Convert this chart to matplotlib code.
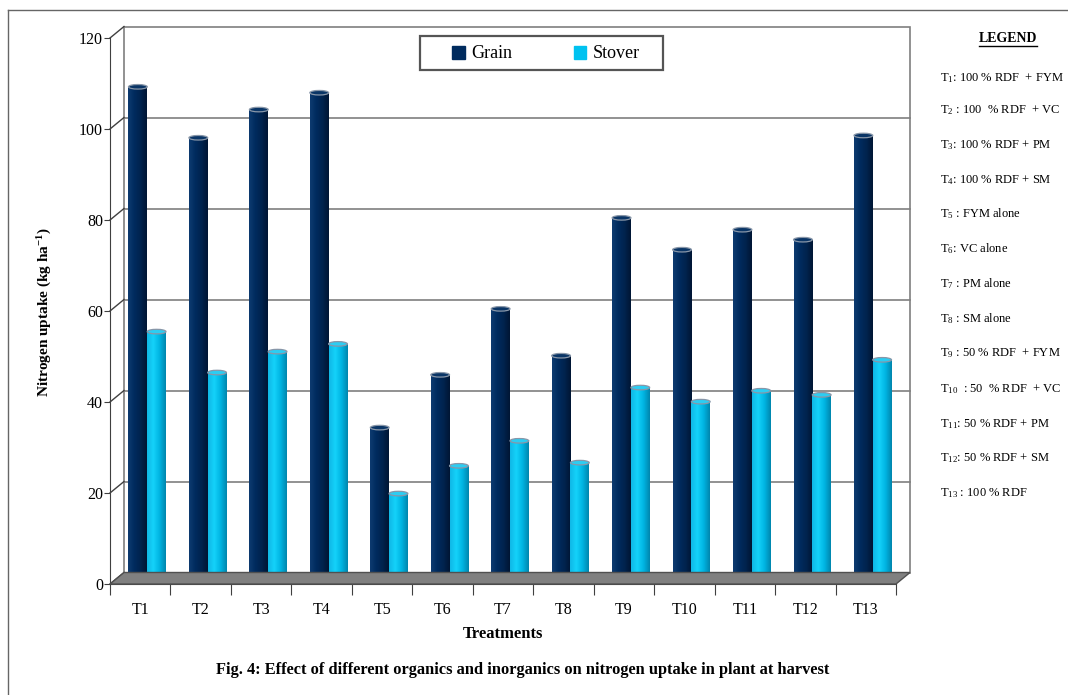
import matplotlib
matplotlib.use('Agg')
import matplotlib.pyplot as plt
import matplotlib.transforms as mtransforms
from matplotlib.colors import LinearSegmentedColormap
from matplotlib.patches import Polygon, Ellipse, Patch, Rectangle
from matplotlib.lines import Line2D
import numpy as np

plt.rcParams['font.family'] = ['Liberation Serif', 'DejaVu Serif']
plt.rcParams['mathtext.fontset'] = 'custom'
plt.rcParams['mathtext.rm'] = 'Liberation Serif'
plt.rcParams['mathtext.it'] = 'Liberation Serif:italic'
plt.rcParams['mathtext.bf'] = 'Liberation Serif:bold'

# Nitrogen uptake (kg/ha) per treatment
TREATMENTS = ['T1', 'T2', 'T3', 'T4', 'T5', 'T6', 'T7', 'T8', 'T9', 'T10', 'T11', 'T12', 'T13']
GRAIN = [108.0, 96.8, 103.0, 106.7, 33.1, 44.7, 59.2, 48.9, 79.2, 72.2, 76.6, 74.4, 97.3]
STOVER = [54.2, 45.2, 49.8, 51.5, 18.6, 24.7, 30.2, 25.4, 41.9, 38.8, 41.2, 40.3, 48.0]
Y_TICKS = [0, 20, 40, 60, 80, 100, 120]

LEGEND_ITEMS = [
    r'T$_{\mathrm{1}}$: 100 % RDF  + FYM',
    r'T$_{\mathrm{2}}$ : 100  % RDF  + VC',
    r'T$_{\mathrm{3}}$: 100 % RDF + PM',
    r'T$_{\mathrm{4}}$: 100 % RDF + SM',
    r'T$_{\mathrm{5}}$ : FYM alone',
    r'T$_{\mathrm{6}}$: VC alone',
    r'T$_{\mathrm{7}}$ : PM alone',
    r'T$_{\mathrm{8}}$ : SM alone',
    r'T$_{\mathrm{9}}$ : 50 % RDF  + FYM',
    r'T$_{\mathrm{10}}$  : 50  % RDF  + VC',
    r'T$_{\mathrm{11}}$: 50 % RDF + PM',
    r'T$_{\mathrm{12}}$: 50 % RDF + SM',
    r'T$_{\mathrm{13}}$ : 100 % RDF',
]

GRAIN_COL = '#002b5e'
STOVER_COL = '#00c2f0'
grain_cmap = LinearSegmentedColormap.from_list('grain', ['#0d3b70', '#002b5e', '#00234e', '#001634'])
stover_cmap = LinearSegmentedColormap.from_list('stover', ['#10b8e6', '#14d2fa', '#00b4e2', '#0086ad'])

W, H = 1068, 695
fig = plt.figure(figsize=(W / 100, H / 100), dpi=100)
fig.patch.set_facecolor('white')

# front plane of the plot area, in pixels
left, right, bottom, top = 110, 896, 584, 38
ax = fig.add_axes([left / W, 1 - bottom / H, (right - left) / W, (bottom - top) / H])
ax.set_xlim(-0.5, len(TREATMENTS) - 0.5)
ax.set_ylim(0, 120)
ax.patch.set_visible(False)

# depth shift for the back wall and the bar row (3-D look)
back = ax.transData + mtransforms.ScaledTranslation(0.14, 0.115, fig.dpi_scale_trans)
mid = ax.transData + mtransforms.ScaledTranslation(0.07, 0.058, fig.dpi_scale_trans)

x0, x1 = -0.5, len(TREATMENTS) - 0.5
grid_col = '#7f7f7f'

# back wall
ax.add_patch(Rectangle((x0, 0), x1 - x0, 120, transform=back, facecolor='white',
                       edgecolor=grid_col, lw=1.2, zorder=0, clip_on=False))
for y in Y_TICKS[1:-1]:
    ax.plot([x0, x1], [y, y], transform=back, color=grid_col, lw=1.2, zorder=1, clip_on=False)

# side wall connectors from the front axis to the back wall
for y in Y_TICKS:
    p0 = ax.transData.transform((x0, y))
    p1 = back.transform((x0, y))
    fig.add_artist(Line2D([p0[0], p1[0]], [p0[1], p1[1]], transform=None,
                          color='#404040', lw=1, zorder=1))

# floor
f = [ax.transData.transform((x0, 0)), ax.transData.transform((x1, 0)),
     back.transform((x1, 0)), back.transform((x0, 0))]
fig.add_artist(Polygon(f, closed=True, transform=None, facecolor='#808080',
                       edgecolor='#505050', lw=1, zorder=2))

# cylinders
xs = np.arange(len(TREATMENTS))
bw = 0.31
for vals, cmap, cap_col, off in [(GRAIN, grain_cmap, '#0a3566', -bw / 2),
                                 (STOVER, stover_cmap, '#2ccdf2', bw / 2)]:
    bars = ax.bar(xs + off, vals, bw, transform=mid, color=cmap(0.5), lw=0,
                  zorder=5, clip_on=False)
    grad = np.linspace(0, 1, 64).reshape(1, -1)
    for b, v in zip(bars, vals):
        bx = b.get_x()
        im = ax.imshow(grad, cmap=cmap, aspect='auto', extent=[bx, bx + bw, 0, v],
                       transform=mid, zorder=6, interpolation='bilinear')
        im.set_clip_path(b)
        ax.add_patch(Ellipse((bx + bw / 2, v), bw, 1.0, transform=mid, facecolor=cap_col,
                             edgecolor='#8896a8', lw=0.9, zorder=7, clip_on=False))
ax.set_xlim(x0, x1)
ax.set_ylim(0, 120)

# axes
for s in ['top', 'right']:
    ax.spines[s].set_visible(False)
ax.spines['left'].set_color('#404040')
ax.spines['bottom'].set_color('#404040')
ax.set_yticks(Y_TICKS)
ax.tick_params(axis='y', length=4, color='#404040', labelsize=11.5, pad=1)
ax.set_xticks(np.arange(x0, x1 + 0.5, 1.0))
ax.set_xticklabels([])
ax.tick_params(axis='x', which='major', length=8, color='#404040')
ax.set_xticks(xs, minor=True)
ax.set_xticklabels(TREATMENTS, minor=True)
ax.tick_params(axis='x', which='minor', length=0, labelsize=11.5, pad=13)

fig.text(503 / W, 1 - 634 / H, 'Treatments', ha='center', va='center',
         fontsize=12, fontweight='bold')
fig.text(45 / W, 1 - 312 / H, r'Nitrogen uptake (kg ha$^{\mathbf{-1}}$)', rotation=90,
         ha='center', va='center', fontsize=11, fontweight='bold')
fig.text(523 / W, 1 - 670 / H,
         'Fig. 4: Effect of different organics and inorganics on nitrogen uptake in plant at harvest',
         ha='center', va='center', fontsize=11.8, fontweight='bold')

# series legend
fig.add_artist(Rectangle((420 / W, 1 - 70 / H), 243 / W, 34 / H, transform=fig.transFigure,
                         facecolor='white', edgecolor='#555555', lw=1.6, zorder=8))
leg = fig.legend([Patch(color=GRAIN_COL), Patch(color=STOVER_COL)], ['Grain', 'Stover'],
                 loc='center', bbox_to_anchor=(546 / W, 1 - 54 / H), ncol=2,
                 frameon=False, fontsize=13,
                 handlelength=0.7, handleheight=0.7, handletextpad=0.35,
                 columnspacing=3.4, borderpad=0.2)
leg.set_zorder(9)

# treatment key on the right
title = fig.text(1008 / W, 1 - 38 / H, 'LEGEND', ha='center', va='center',
                 fontsize=10, fontweight='bold')
ys = [78, 110, 145, 180, 214, 249, 284, 319, 353, 389, 424, 458, 493]
for y, lab in zip(ys, LEGEND_ITEMS):
    fig.text(940 / W, 1 - y / H, lab, ha='left', va='center', fontsize=9)

fig.canvas.draw()
bb = title.get_window_extent()
fig.add_artist(Line2D([bb.x0, bb.x1], [bb.y0 - 1, bb.y0 - 1], transform=None,
                      color='black', lw=1))

# page frame
fig.add_artist(Line2D([8 / W, 8 / W], [0, 1 - 10 / H], transform=fig.transFigure,
                      color='#666666', lw=1))
fig.add_artist(Line2D([8 / W, 1], [1 - 10 / H, 1 - 10 / H], transform=fig.transFigure,
                      color='#666666', lw=1))

fig.savefig('out.png', dpi=100)
